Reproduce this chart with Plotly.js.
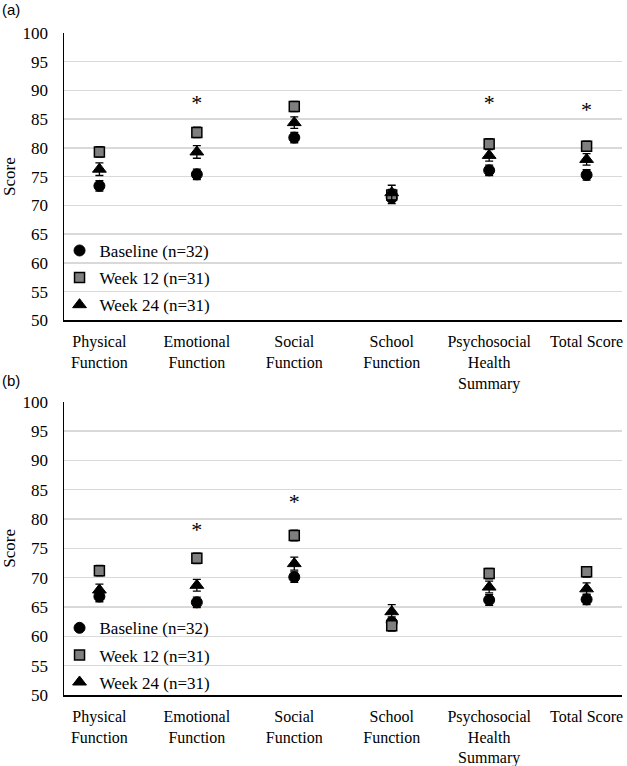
<!DOCTYPE html>
<html>
<head>
<meta charset="utf-8">
<script src="https://cdn.plot.ly/plotly-3.0.1.min.js"></script>
<style>html,body{margin:0;padding:0;background:#fff;}#chart{width:627px;height:766px;}</style>
</head>
<body>
<div id="chart"></div>
<script>
const categories = ["Physical<br>Function", "Emotional<br>Function", "Social<br>Function", "School<br>Function", "Psychosocial<br>Health<br>Summary", "Total Score"];
const seriesNames = ["Baseline (n=32)", "Week 12 (n=31)", "Week 24 (n=31)"];

// Panel (a)
const aBaseline = [73.4, 75.4, 81.8, 71.3, 76.1, 75.3];
const aWeek12   = [79.3, 82.7, 87.2, 71.8, 80.7, 80.3];
const aWeek24   = [76.3, 79.3, 84.4, 72.2, 78.7, 78.0];
const aErrB  = [0.9, 0.9, 0.9, 1.0, 0.9, 0.9];
const aErr12 = [0.9, 0.9, 0.9, 1.0, 0.9, 0.9];
const aErr24 = [1.1, 1.1, 1.0, 1.3, 1.0, 1.0];
const aStars = [null, 87.5, null, null, 87.5, 86.3];

// Panel (b)
const bBaseline = [66.8, 65.8, 70.1, 62.4, 66.2, 66.3];
const bWeek12   = [71.2, 73.3, 77.2, 61.8, 70.7, 71.0];
const bWeek24   = [67.9, 68.7, 72.4, 64.2, 68.4, 68.1];
const bErrB  = [0.9, 0.9, 0.9, 0.9, 0.9, 0.9];
const bErr12 = [0.9, 0.9, 0.9, 0.9, 0.9, 0.9];
const bErr24 = [1.0, 1.0, 1.1, 1.2, 1.0, 1.0];
const bStars = [null, 77.8, 82.7, null, null, null];

const serif = "Liberation Serif";
const sans = "Liberation Sans";
const markerStyles = [
  {symbol: "circle", size: 11, color: "#000000", line: {color: "#000000", width: 1}},
  {symbol: "square", size: 10, color: "#7f7f7f", line: {color: "#000000", width: 1.5}},
  {symbol: "triangle-up", size: 12, color: "#000000", line: {color: "#000000", width: 1}}
];

function makeTraces(vals, errs, stars, xa, ya, legendId) {
  const traces = vals.map((v, i) => ({
    type: "scatter", mode: "markers",
    x: categories, y: v, xaxis: xa, yaxis: ya,
    name: seriesNames[i], legend: legendId, legendgroup: legendId + i,
    marker: markerStyles[i],
    error_y: {type: "data", array: errs[i], visible: true, color: "#000000", thickness: 1.3, width: 4},
    cliponaxis: false
  }));
  traces.push({
    type: "scatter", mode: "text", x: categories, y: stars, xaxis: xa, yaxis: ya,
    text: stars.map(s => s === null ? "" : "*"), textposition: "middle center",
    textfont: {family: serif, size: 22, color: "#000"}, showlegend: false, hoverinfo: "skip"
  });
  return traces;
}

const data = [].concat(
  makeTraces([aBaseline, aWeek12, aWeek24], [aErrB, aErr12, aErr24], aStars, "x", "y", "legend"),
  makeTraces([bBaseline, bWeek12, bWeek24], [bErrB, bErr12, bErr24], bStars, "x2", "y2", "legend2")
);

const xaxisBase = {
  type: "category", showgrid: false, zeroline: false,
  showline: true, linecolor: "#000000", linewidth: 1.5,
  ticks: "outside", ticklen: 6, tickcolor: "rgba(0,0,0,0)",
  tickfont: {family: serif, size: 16, color: "#000"}
};
const yaxisBase = {
  range: [50, 100], dtick: 5, tick0: 50, showgrid: true, gridcolor: "#d9d9d9", gridwidth: 1.5,
  zeroline: false, showline: true, linecolor: "#000000", linewidth: 1.5,
  ticks: "outside", ticklen: 11, tickcolor: "rgba(0,0,0,0)",
  tickfont: {family: serif, size: 17, color: "#000"},
  title: {text: "Score", font: {family: serif, size: 17, color: "#000"}, standoff: 3}
};
const legendBase = {
  x: -0.008, xanchor: "left", yanchor: "top", bgcolor: "rgba(0,0,0,0)",
  font: {family: serif, size: 17, color: "#000"}, tracegroupgap: 2,
  itemwidth: 30
};

const layout = {
  width: 627, height: 766,
  margin: {l: 64, r: 5, t: 33, b: 71},
  paper_bgcolor: "#fff", plot_bgcolor: "#fff",
  showlegend: true,
  xaxis: Object.assign({}, xaxisBase, {anchor: "y"}),
  yaxis: Object.assign({}, yaxisBase, {domain: [0.566, 1], anchor: "x"}),
  xaxis2: Object.assign({}, xaxisBase, {anchor: "y2"}),
  yaxis2: Object.assign({}, yaxisBase, {domain: [0, 0.443], anchor: "x2"}),
  legend: Object.assign({}, legendBase, {y: 0.698}),
  legend2: Object.assign({}, legendBase, {y: 0.128}),
  annotations: [
    {text: "(a)", xref: "paper", yref: "paper", x: -0.115, y: 1.035, xanchor: "left", yanchor: "middle", showarrow: false, font: {family: sans, size: 15, color: "#000"}},
    {text: "(b)", xref: "paper", yref: "paper", x: -0.115, y: 0.475, xanchor: "left", yanchor: "middle", showarrow: false, font: {family: sans, size: 15, color: "#000"}}
  ]
};

Plotly.newPlot("chart", data, layout, {displayModeBar: false, staticPlot: true});
</script>
</body>
</html>
